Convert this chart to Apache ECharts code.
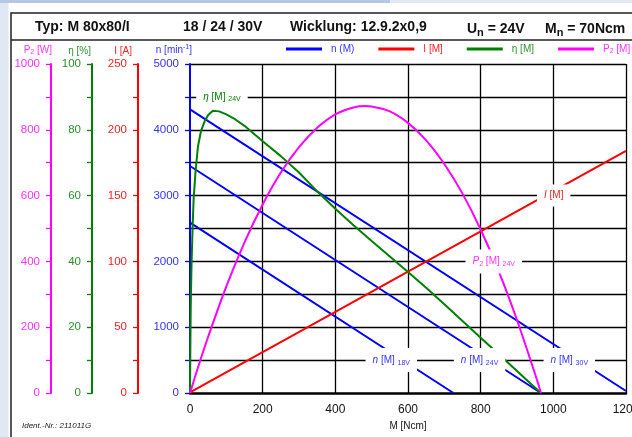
<!DOCTYPE html>
<html><head><meta charset="utf-8">
<script src="https://cdn.jsdelivr.net/npm/echarts@6/dist/echarts.min.js"></script>
<style>html,body{margin:0;padding:0;background:#fff}#c{width:632px;height:437px}</style>
</head><body><div id="c"></div>
<script>
// ---- data (M in Ncm) ----
const n18V = [[0, 2590], [725, 0]];
const n24V = [[0, 3450], [966, 0]];
const n30V = [[0, 4310], [1200, 30]];
const current24V = [[0, 0.5], [1200, 184]];
const efficiency24V = [[0,0],[1,14],[2,26],[4,38],[7,50],[10,59],[15,67],[22,75],[30,79.5],[40,82.5],[50,84.5],[63,85.8],[80,85.6],[100,84.7],[120,83.5],[150,81.2],[200,76.5],[250,72],[300,67],[350,61.3],[400,56],[450,51],[500,46.2],[550,41.5],[600,36.8],[650,32],[700,27],[750,21.9],[800,16.8],[850,11.8],[900,6.7],[940,2.6],[966,0]];
const power24V = [[0,0],[25,88],[50,171],[100,324],[150,458],[200,573],[250,670],[300,747],[350,806],[400,847],[450,868],[483,872],[500,871],[550,856],[600,821],[650,768],[700,696],[750,606],[800,497],[850,369],[900,222],[950,57],[966,0]];
const mRange = [0, 1200, 200];
const nRange = [0, 5000, 1000];
const iRange = [0, 250, 50];
const etaRange = [0, 100, 20];
const pRange = [0, 1000, 200];
const headerTexts = ['Typ: M 80x80/I', '18 / 24 / 30V', 'Wicklung: 12.9.2x0,9', 'U{s|n} = 24V', 'M{s|n} = 70Ncm'];
const curveLabelTexts = ['{i|η} [M] {s|24V}', '{i|I} [M]', '{i|P}{s2|2} [M] {s|24V}', '{i|n} [M] {s|18V}', '{i|n} [M] {s|24V}', '{i|n} [M] {s|30V}'];

// ---- layout / style (kept apart from data) ----
const FONT = 'Liberation Sans, Arial, Helvetica, sans-serif';
const BLUE = '#0000ff', RED = '#ff0000', GREEN = '#008000', MAG = '#ff00ff';
const headerLeft = [35, 183, 290, 467, 545];
const curveLabelPos = [[88, 4500], [1001, 3000], [836, 2000], [554, 500], [797, 500], [1044, 500]];
const curveLabelColor = [GREEN, '#ff2020', '#ff33ff', '#3333ff', '#3333ff', '#3333ff'];

const chart = echarts.init(document.getElementById('c'), null, {renderer: 'canvas'});
const plain = v => String(v);

function yAxisDef(range, offset, lineColor, textColor, name, namePad, extra) {
  return Object.assign({
    type: 'value', position: 'left', offset: offset,
    min: range[0], max: range[1], interval: range[2],
    axisLine: {show: true, lineStyle: {color: lineColor, width: 2}},
    axisTick: {show: true, length: 5, lineStyle: {color: lineColor, width: 1.3}},
    minorTick: {show: true, splitNumber: 2, length: 5, lineStyle: {color: lineColor, width: 1.3}},
    axisLabel: {color: textColor, fontSize: 11.5, fontFamily: FONT, margin: 11, formatter: plain},
    splitLine: {show: false},
    name: name, nameLocation: 'end', nameGap: 8,
    nameTextStyle: {color: textColor, fontSize: 10, fontFamily: FONT, align: 'right', padding: namePad,
      rich: {s: {fontSize: 7, fontFamily: FONT, color: textColor, padding: [5, 0, 0, 0]},
             sup: {fontSize: 7, fontFamily: FONT, color: textColor, padding: [0, 0, 5, 0]}}}
  }, extra || {});
}

const titles = headerTexts.map((t, i) => ({
  text: t, left: headerLeft[i], top: 20, padding: 0,
  textStyle: {fontSize: 14, fontWeight: 'bold', fontFamily: FONT, color: '#111',
    rich: {s: {fontSize: 11, fontWeight: 'bold', fontFamily: FONT, color: '#111', padding: [7, 0, 0, 0]}}}
}));
titles.push({text: 'Ident.-Nr.: 211011G', left: 22, top: 422, padding: 0,
  textStyle: {fontSize: 8, fontStyle: 'italic', fontWeight: 'normal', fontFamily: FONT, color: '#222'}});

const lineBase = {type: 'line', symbol: 'none', showSymbol: false, xAxisIndex: 0, lineStyle: {width: 2}, z: 3};

const option = {
  animation: false,
  backgroundColor: '#fff',
  title: titles,
  graphic: [
    {type: 'rect', shape: {x: 0, y: 0, width: 8.5, height: 437}, style: {fill: '#dfe8f3'}, silent: true},
    {type: 'rect', shape: {x: 0, y: 0, width: 390, height: 3}, style: {fill: '#b4c8e2'}, silent: true},
    {type: 'rect', shape: {x: 390, y: 0, width: 242, height: 3}, style: {fill: '#dfe8f3'}, silent: true},
    {type: 'rect', shape: {x: 11, y: 13, width: 660, height: 460}, style: {fill: 'none', stroke: '#222', lineWidth: 1.5}, silent: true},
    {type: 'line', shape: {x1: 11, y1: 40, x2: 632, y2: 40}, style: {stroke: '#222', lineWidth: 1.5}, silent: true}
  ],
  legend: {
    left: 286, top: 44, padding: 0, itemWidth: 36, itemHeight: 3, itemGap: 24, icon: 'rect',
    textStyle: {fontSize: 10, fontFamily: FONT, padding: [0, 0, 0, 4],
      rich: {s: {fontSize: 7, fontFamily: FONT, padding: [5, 0, 0, 0]}}},
    formatter: name => name === 'P2 [M]' ? 'P{s|2} [M]' : name,
    data: [
      {name: 'n (M)', textStyle: {color: '#3333ff'}},
      {name: 'I [M]', textStyle: {color: '#ff2020'}},
      {name: 'η [M]', textStyle: {color: '#2a922a'}},
      {name: 'P2 [M]', textStyle: {color: '#ff33ff'}}
    ]
  },
  grid: {left: 190, top: 64, right: 6, bottom: 44, containLabel: false, outerBoundsMode: 'none'},
  xAxis: {
    type: 'value', min: mRange[0], max: mRange[1], interval: mRange[2],
    axisLine: {show: true, lineStyle: {color: '#000', width: 2.5}},
    axisTick: {show: false},
    axisLabel: {color: '#111', fontSize: 12, fontFamily: FONT, margin: 11, formatter: plain, hideOverlap: false},
    splitLine: {show: true, showMinLine: false, lineStyle: {color: '#000', width: 1.3}},
    name: 'M [Ncm]', nameLocation: 'middle', nameGap: 27,
    nameTextStyle: {color: '#111', fontSize: 10, fontFamily: FONT}
  },
  yAxis: [
    yAxisDef(nRange, 0, BLUE, '#3333ff', 'n [min{sup|-1}]', [0, -2, 0, 0], {
      splitLine: {show: true, showMinLine: false, lineStyle: {color: '#000', width: 1.3}},
      minorSplitLine: {show: true, lineStyle: {color: '#000', width: 1.3}}
    }),
    yAxisDef(iRange, 52, RED, '#ff2020', 'I [A]', [0, 6, 0, 0]),
    yAxisDef(etaRange, 98, GREEN, '#2a922a', 'η [%]', [0, 1, 0, 0]),
    yAxisDef(pRange, 139, MAG, '#ff33ff', 'P{s|2} [W]', [0, -1, 0, 0])
  ],
  series: [
    Object.assign({}, lineBase, {name: 'n (M)', yAxisIndex: 0, data: n18V, color: BLUE}),
    Object.assign({}, lineBase, {name: 'n (M)', yAxisIndex: 0, data: n24V, color: BLUE}),
    Object.assign({}, lineBase, {name: 'n (M)', yAxisIndex: 0, data: n30V, color: BLUE}),
    Object.assign({}, lineBase, {name: 'I [M]', yAxisIndex: 1, data: current24V, color: RED}),
    Object.assign({}, lineBase, {name: 'η [M]', yAxisIndex: 2, data: efficiency24V, color: GREEN}),
    Object.assign({}, lineBase, {name: 'P2 [M]', yAxisIndex: 3, data: power24V, color: MAG, smooth: 0.3}),
    {
      type: 'scatter', name: 'labels', xAxisIndex: 0, yAxisIndex: 0, z: 10,
      symbolSize: 1, itemStyle: {color: 'rgba(0,0,0,0)', opacity: 1}, silent: true,
      label: {show: true, position: 'inside', backgroundColor: '#fff', padding: [6, 7],
        fontSize: 10, fontFamily: FONT, opacity: 1,
        rich: {i: {fontStyle: 'italic', fontSize: 10, fontFamily: FONT},
               s: {fontSize: 7, fontFamily: FONT, padding: [5, 0, 0, 0]},
               s2: {fontSize: 7, fontFamily: FONT, padding: [5, 0, 0, 0]}}},
      data: curveLabelTexts.map((t, i) => ({
        value: curveLabelPos[i],
        label: {formatter: t, color: curveLabelColor[i]}
      }))
    }
  ]
};
chart.setOption(option);
</script>
</body></html>
